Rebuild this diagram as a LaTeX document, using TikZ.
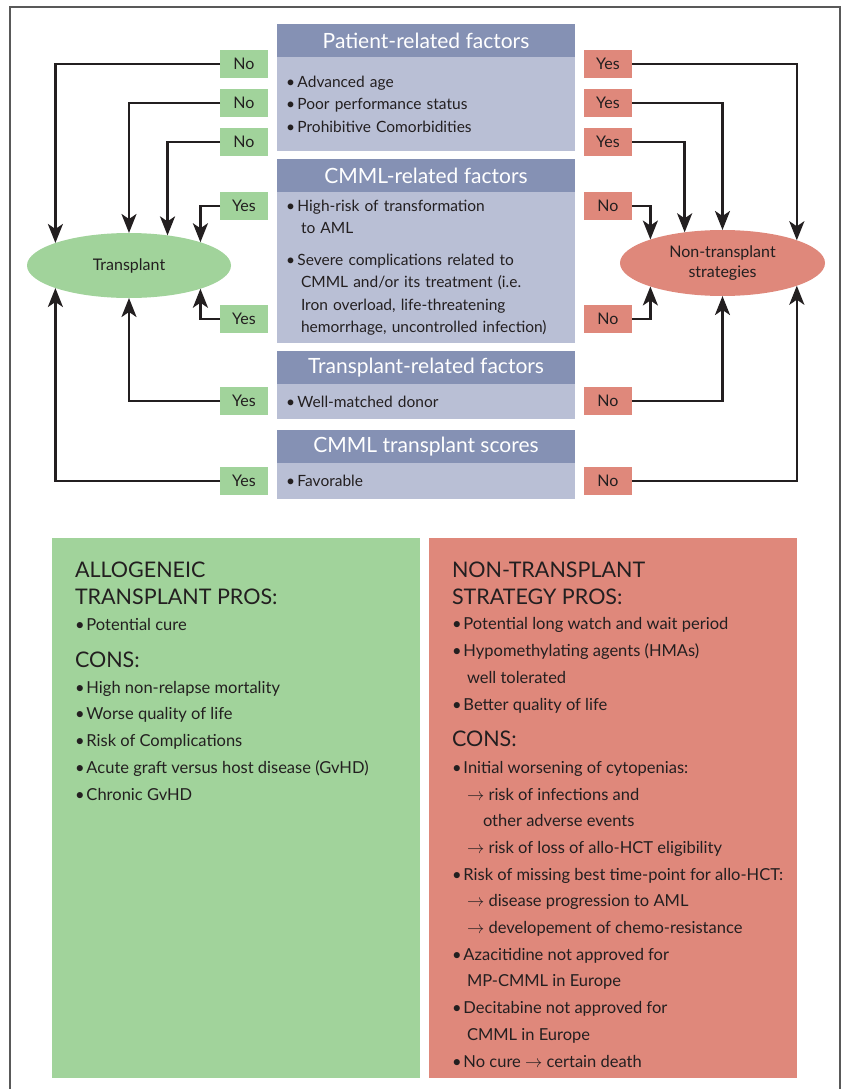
\documentclass[tikz,border=0pt]{standalone}
\usepackage{fontspec}
\setmainfont{Lato}
\usetikzlibrary{arrows.meta,positioning,shapes.geometric}
\definecolor{headblue}{RGB}{133,145,180}
\definecolor{bodyblue}{RGB}{185,191,213}
\definecolor{yesgreen}{RGB}{161,211,155}
\definecolor{nored}{RGB}{223,136,123}
\definecolor{arrowdark}{RGB}{35,31,32}
\newcommand{\bul}{\makebox[11.5pt][l]{\textbullet}}
\newcommand{\ind}{\hspace*{15pt}}
\newcommand{\then}{\hspace*{15pt}$\rightarrow$ }

\begin{document}
\begin{tikzpicture}[x=1pt, y=-1pt, node distance=0pt, every node/.style={outer sep=0pt},
    >={Stealth[length=19pt,width=15pt,inset=5pt]}]
      \tikzstyle{head}=[rectangle,fill=headblue,text=white,minimum width=298pt,minimum height=33pt,inner sep=0pt,font=\fontsize{21}{24}\selectfont]
      \tikzstyle{body}=[rectangle,fill=bodyblue,text width=280pt,align=left,inner xsep=9pt,inner ysep=0pt,text=arrowdark,font=\fontsize{15.5}{22.5}\selectfont]
      \tikzstyle{glab}=[rectangle,fill=yesgreen,minimum width=48pt,minimum height=28pt,inner sep=0pt,text=arrowdark,font=\fontsize{16}{18}\selectfont]
      \tikzstyle{rlab}=[glab,fill=nored]
      \tikzstyle{choice}=[ellipse,inner sep=0pt,align=center,text=arrowdark,font=\fontsize{16}{20}\selectfont]
      \tikzstyle{link}=[->,line width=2.6pt,draw=arrowdark]
      \tikzstyle{hd}=[anchor=base west,align=left,inner sep=0pt,text=arrowdark,font=\fontsize{21.5}{27}\selectfont]
      \tikzstyle{lst}=[anchor=base west,align=left,inner sep=0pt,text=arrowdark,font=\fontsize{16.5}{26.7}\selectfont]
      \useasboundingbox (0,0) rectangle (842,1089);
      \draw[gray!70!black,line width=1.2pt] (10,1089) -- (10,7) -- (840,7) -- (840,1089);

      % factor boxes
      \node[head,anchor=north west] (PF) at (277,24) {Patient-related factors};
      \node[body,below=of PF,minimum height=94pt] (PFb) {\bul Advanced age\\\bul Poor performance status\\\bul Prohibitive Comorbidities};
      \node[head,anchor=north west] (CF) at (277,159) {CMML-related factors};
      \node[body,below=of CF,minimum height=151pt] (CFb) {\bul High-risk of transformation\\\ind to AML\\[9pt]\bul Severe complications related to\\\ind CMML and/or its treatment (i.e.\\\ind Iron overload, life-threatening\\\ind hemorrhage, uncontrolled infection)};
      \node[head,anchor=north west] (TF) at (277,351) {Transplant-related factors};
      \node[body,below=of TF,minimum height=35pt] (TFb) {\bul Well-matched donor};
      \node[head,anchor=north west] (SF) at (277,430) {CMML transplant scores};
      \node[body,below=of SF,minimum height=36pt] (SFb) {\bul Favorable};

      % the two outcomes
      \node[choice,fill=yesgreen,minimum width=204pt,minimum height=65pt] (TR) at (129,265.5) {Transplant};
      \node[choice,fill=nored,minimum width=205pt,minimum height=66pt] (NT) at (722.5,263) {Non-transplant\\strategies};

      % answers
      \node[glab] (gN1) at (244,64) {No};
      \node[glab] (gN2) at (244,103) {No};
      \node[glab] (gN3) at (244,142) {No};
      \node[glab] (gY1) at (244,206) {Yes};
      \node[glab] (gY2) at (244,319) {Yes};
      \node[glab] (gY3) at (244,401) {Yes};
      \node[glab] (gY4) at (244,481) {Yes};
      \node[rlab] (rY1) at (608,64) {Yes};
      \node[rlab] (rY2) at (608,103) {Yes};
      \node[rlab] (rY3) at (608,142) {Yes};
      \node[rlab] (rN1) at (608,206) {No};
      \node[rlab] (rN2) at (608,319) {No};
      \node[rlab] (rN3) at (608,401) {No};
      \node[rlab] (rN4) at (608,481) {No};

      \draw[link] (gN1.west) -| (TR.163);
      \draw[link] (gN2.west) -| (TR.90);
      \draw[link] (gN3.west) -| (TR.38);
      \draw[link] (gY1.west) -| (TR.18);
      \draw[link] (gY2.west) -| (TR.-18);
      \draw[link] (gY3.west) -| (TR.-90);
      \draw[link] (gY4.west) -| (TR.-163);
      \draw[link] (rY1.east) -| (NT.17);
      \draw[link] (rY2.east) -| (NT.90);
      \draw[link] (rY3.east) -| (NT.141.5);
      \draw[link] (rN1.east) -| (NT.162);
      \draw[link] (rN2.east) -| (NT.198);
      \draw[link] (rN3.east) -| (NT.270);
      \draw[link] (rN4.east) -| (NT.343);

      % pros and cons (nodes sit on the baseline of their last line)
      \node[rectangle,fill=yesgreen,minimum width=368pt,minimum height=540pt,anchor=north west] (GB) at (52,538) {};
      \node[rectangle,fill=nored,minimum width=368pt,minimum height=540pt,anchor=north west] (RB) at (429,538) {};
      \node[hd] (GH) at (75,604) {ALLOGENEIC\\TRANSPLANT PROS:};
      \node[lst] (GP) at (75,630) {\bul Potential cure};
      \node[hd] (GC) at (75,667) {CONS:};
      \node[lst] (GL) at (75,800) {\bul High non-relapse mortality\\\bul Worse quality of life\\\bul Risk of Complications\\\bul Acute graft versus host disease (GvHD)\\\bul Chronic GvHD};
      \node[hd] (RH) at (452,604) {NON-TRANSPLANT\\STRATEGY PROS:};
      \node[lst] (RP) at (452,710) {\bul Potential long watch and wait period\\\bul Hypomethylating agents (HMAs)\\\ind well tolerated\\\bul Better quality of life};
      \node[hd] (RC) at (452,746) {CONS:};
      \node[lst] (RL) at (452,1067) {\bul Initial worsening of cytopenias:\\\then risk of infections and\\\hspace*{31pt}other adverse events\\\then risk of loss of allo-HCT eligibility\\\bul Risk of missing best time-point for allo-HCT:\\\then disease progression to AML\\\then developement of chemo-resistance\\\bul Azacitidine not approved for\\\ind MP-CMML in Europe\\\bul Decitabine not approved for\\\ind CMML in Europe\\\bul No cure $\rightarrow$ certain death};

    \end{tikzpicture}
\end{document}
